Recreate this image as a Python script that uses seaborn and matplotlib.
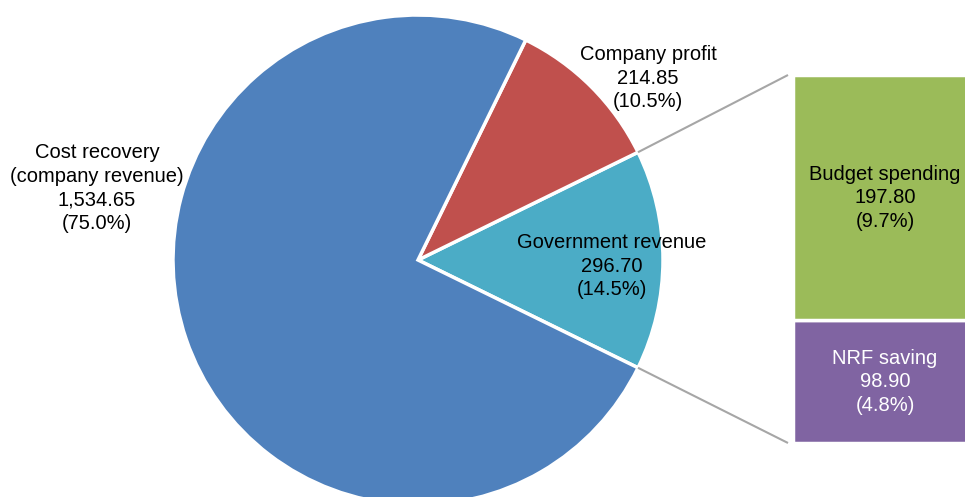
import numpy as np
import matplotlib
matplotlib.use("Agg")
import matplotlib.pyplot as plt
import seaborn as sns

sns.set_theme(style="white")
plt.rcParams["font.family"] = ["Liberation Sans", "DejaVu Sans"]

# data
pie_labels = ["Government revenue", "Company profit", "Cost recovery\n(company revenue)"]
pie_values = [296.70, 214.85, 1534.65]
bar_labels = ["NRF saving", "Budget spending"]
bar_values = [98.90, 197.80]

pie_colors = ["#4BACC6", "#C0504D", "#4F81BD"]
bar_colors = ["#8064A2", "#9BBB59"]

total = sum(pie_values)

W, H = 965, 497
fig = plt.figure(figsize=(W / 100, H / 100), dpi=100)
ax = fig.add_axes([0, 0, 1, 1])

# pie, government slice centred on the right side
center = (418, H - 260)
radius = 245
gov_angle = pie_values[0] / total * 360
ax.pie(pie_values, colors=pie_colors, startangle=-gov_angle / 2, counterclock=True,
       center=center, radius=radius,
       wedgeprops=dict(edgecolor="white", linewidth=2.5))

# stacked bar breaking down government revenue
bar_x, bar_w = 885, 184
bar_bottom, bar_top = H - 443, H - 75
scale = (bar_top - bar_bottom) / pie_values[0]
bottom = bar_bottom
for lab, v, c in zip(bar_labels, bar_values, bar_colors):
    ax.bar(bar_x, v * scale, width=bar_w, bottom=bottom, color=c,
           edgecolor="white", linewidth=2.5)
    txt_color = "white" if lab == "NRF saving" else "black"
    ax.text(bar_x, bottom + v * scale / 2,
            f"{lab}\n{v:,.2f}\n({v / total * 100:.1f}%)",
            ha="center", va="center", fontsize=14.5, color=txt_color, linespacing=1.3)
    bottom += v * scale

# connector lines
a = np.deg2rad(gov_angle / 2)
px = center[0] + radius * np.cos(a)
ax.plot([px, bar_x - bar_w / 2 - 5], [center[1] + radius * np.sin(a), bar_top],
        color="#A6A6A6", lw=1.5, solid_capstyle="butt")
ax.plot([px, bar_x - bar_w / 2 - 5], [center[1] - radius * np.sin(a), bar_bottom],
        color="#A6A6A6", lw=1.5, solid_capstyle="butt")

# pie labels
pie_pos = [(612, H - 266), (648, H - 78), (97, H - 188)]
for lab, v, (x, y) in zip(pie_labels, pie_values, pie_pos):
    ax.text(x, y, f"{lab}\n{v:,.2f}\n({v / total * 100:.1f}%)",
            ha="center", va="center", fontsize=14.5, color="black", linespacing=1.3)

ax.set_xlim(0, W)
ax.set_ylim(0, H)
ax.set_aspect("auto")
ax.axis("off")

fig.savefig("out.png", dpi=100)
